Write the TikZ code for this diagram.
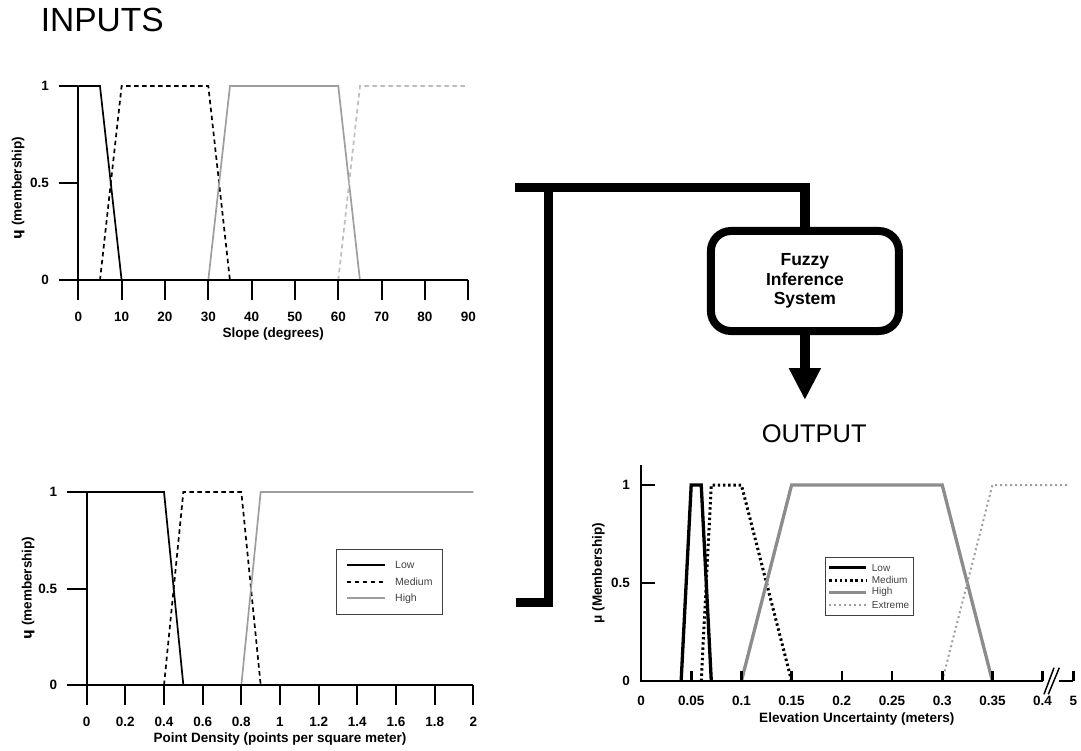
\documentclass[tikz,border=0pt]{standalone}
\usepackage{fontspec}
\setmainfont{Liberation Sans}
\newfontfamily\ipafont{DejaVu Sans}
\usetikzlibrary{arrows.meta}

\definecolor{hiGray}{gray}{0.62}
\definecolor{exGray}{gray}{0.74}
\definecolor{hiGrayB}{gray}{0.55}
\definecolor{exGrayB}{gray}{0.62}
\definecolor{legText}{gray}{0.25}

\newcommand\axfont{\fontsize{13.5}{15}\selectfont\bfseries}
\newcommand\legfont{\fontsize{10.5}{12}\selectfont}

\tikzset{
  axline/.style={line width=2pt},
  axlineB/.style={line width=2.6pt},
  ticklab/.style={font=\axfont, anchor=base, inner sep=0pt},
  ytlab/.style={font=\axfont, anchor=east, inner sep=0pt},
  axtitle/.style={font=\axfont, anchor=base, inner sep=0pt},
  ytitle/.style={font=\axfont, rotate=90, inner sep=0pt},
  lowA/.style={line width=1.7pt, black},
  medA/.style={line width=1.7pt, black, dash pattern=on 4.5pt off 3.5pt},
  highA/.style={line width=1.7pt, hiGray},
  extA/.style={line width=1.7pt, exGray, dash pattern=on 4.5pt off 3.5pt},
  lowB/.style={line width=3.3pt, black},
  medB/.style={line width=3pt, black, dash pattern=on 2.4pt off 2.8pt},
  highB/.style={line width=3.3pt, hiGrayB},
  extB/.style={line width=2pt, exGrayB, dash pattern=on 2pt off 3pt},
  legbox/.style={draw=black!75, line width=1.2pt},
  legtext/.style={font=\legfont, text=legText, anchor=west, inner sep=0pt},
  conn/.style={line width=9.3pt, line join=miter},
  fisbox/.style={draw, line width=8pt, rounded corners=20pt, minimum width=188pt,
    minimum height=100pt, align=center, font=\fontsize{17.5}{19.7}\selectfont\bfseries},
  bigtitle/.style={inner sep=0pt, anchor=base},
}

\begin{document}
\begin{tikzpicture}[x=1pt, y=-1pt]
\useasboundingbox (0,0) rectangle (1081,751);

% ---------- headings ----------
\node[bigtitle, anchor=base west, font=\fontsize{33.5}{40}\selectfont] (inputs) at (40.7,31.7) {INPUTS};
\node[bigtitle, font=\fontsize{25.5}{30}\selectfont] (output) at (814.2,442.3) {OUTPUT};

% ---------- slope membership functions ----------
\begin{scope}[shift={(78.3,280.3)}, x=4.333pt, y=194.3pt]
  \draw[lowA]  (0,1) -- (5,1) -- (10,0);
  \draw[medA]  (5,0) -- (10,1) -- (30,1) -- (35,0);
  \draw[highA] (30,0) -- (35,1) -- (60,1) -- (65,0);
  \draw[extA]  (60,0) -- (65,1) -- (90,1);
  \draw[axline] ([xshift=-19.6pt]0,0) -- (90,0);
  \draw[axline] (0,1) -- ([yshift=-19.7pt]0,0);
  \foreach \v in {10,20,...,90} \draw[axline] (\v,0) -- ++(0pt,-19.7pt);
  \foreach \v in {0.5,1} \draw[axline] ([xshift=-19.6pt]0,\v) -- (0,\v);
  \foreach \v in {0,10,...,90} \node[ticklab] (sx\v) at ([yshift=-41.5pt]\v,0) {\v};
  \node[ytlab] (sy0) at ([xshift=-29.3pt]0,0) {0};
  \node[ytlab] (sy5) at ([xshift=-29.3pt]0,0.5) {0.5};
  \node[ytlab] (sy1) at ([xshift=-29.3pt]0,1) {1};
  \node[axtitle] (sxt) at ([yshift=-57pt]45,0) {Slope (degrees)};
  \node[ytitle] (syt) at ([xshift=-60pt]0,0.475) {{\ipafont\bfseries ɥ} (membership)};
\end{scope}

% ---------- point density membership functions ----------
\begin{scope}[shift={(86.7,685)}, x=193.3pt, y=193pt]
  \draw[lowA]  (0,1) -- (0.4,1) -- (0.5,0);
  \draw[medA]  (0.4,0) -- (0.5,1) -- (0.8,1) -- (0.9,0);
  \draw[highA] (0.8,0) -- (0.9,1) -- (2,1);
  \draw[axline] ([xshift=-20pt]0,0) -- (2,0);
  \draw[axline] (0,1) -- ([yshift=-20pt]0,0);
  \foreach \v in {0.2,0.4,0.6,0.8,1,1.2,1.4,1.6,1.8,2} \draw[axline] (\v,0) -- ++(0pt,-20pt);
  \foreach \v in {0.5,1} \draw[axline] ([xshift=-20pt]0,\v) -- (0,\v);
  \foreach \v/\n in {0/a,0.2/b,0.4/c,0.6/d,0.8/e,1/f,1.2/g,1.4/h,1.6/i,1.8/j,2/k}
    \node[ticklab] (dx\n) at ([yshift=-41pt]\v,0) {\v};
  \node[ytlab] (dy0) at ([xshift=-29.4pt]0,0) {0};
  \node[ytlab] (dy5) at ([xshift=-29.4pt]0,0.5) {0.5};
  \node[ytlab] (dy1) at ([xshift=-29.4pt]0,1) {1};
  \node[axtitle] (dxt) at ([yshift=-57.7pt]1,0) {Point Density (points per square meter)};
  \node[ytitle] (dyt) at ([xshift=-58.4pt]0,0.503) {{\ipafont\bfseries ɥ} (membership)};
\end{scope}

% legend of the input sets
\draw[legbox] (336.7,549.3) rectangle (442.7,614.3);
\draw[lowA]  (346.7,565) -- (385,565);
\draw[medA]  (346.7,581.7) -- (385,581.7);
\draw[highA] (346.7,598.3) -- (385,598.3);
\node[legtext] (lgA1) at (395,565) {Low};
\node[legtext] (lgA2) at (395,581.7) {Medium};
\node[legtext] (lgA3) at (395,598.3) {High};

% ---------- elevation uncertainty membership functions ----------
\begin{scope}[shift={(641,681)}, x=1004pt, y=196pt]
  \draw[lowB]  (0.04,0) -- (0.05,1) -- (0.06,1) -- (0.07,0);
  \draw[medB]  (0.06,0) -- (0.07,1) -- (0.1,1) -- (0.15,0);
  \draw[highB] (0.1,0) -- (0.15,1) -- (0.3,1) -- (0.35,0);
  \draw[extB]  (0.3,0) -- (0.35,1) -- (0.4273,1);
  \draw[axlineB] ([xshift=-1.3pt]0,0) -- (0.4,0);
  \draw[axlineB] (0.4163,0) -- (0.4306,0);
  \draw[axlineB] (0,0) -- (0,1.102);
  \foreach \v in {0.05,0.1,0.15,0.2,0.25,0.3,0.35,0.4,0.4306}
    \draw[axlineB] (\v,0) -- ++(0pt,10pt);
  \foreach \v in {0.5,1} \draw[axlineB] (0,\v) -- ([xshift=14pt]0,\v);
  \foreach \v/\t/\n in {0/0/a,0.05/0.05/b,0.1/0.1/c,0.15/0.15/d,0.2/0.2/e,0.25/0.25/f,
                        0.3/0.3/g,0.35/0.35/h,0.4/0.4/i,0.4306/5/j}
    \node[ticklab] (ex\n) at ([yshift=-24.7pt]\v,0) {\t};
  \node[ytlab] (ey0) at ([xshift=-11pt]0,0) {0};
  \node[ytlab] (ey5) at ([xshift=-11pt]0,0.5) {0.5};
  \node[ytlab] (ey1) at ([xshift=-11pt]0,1) {1};
  \node[axtitle] (ext) at ([yshift=-41.3pt]0.2149,0) {Elevation Uncertainty (meters)};
  \node[ytitle] (eyt) at ([xshift=-42.7pt]0,0.551) {μ (Membership)};
\end{scope}

% axis break marks
\draw[line width=1.5pt] (1044,694.3) -- (1054,667.7);
\draw[line width=1.5pt] (1048.3,694.3) -- (1059.3,667.7);

% legend of the output sets
\draw[legbox] (825.7,557.7) rectangle (913.3,615.7);
\draw[lowB]  (829.3,567.7) -- (866,567.7);
\draw[medB]  (829.3,580) -- (866,580);
\draw[highB] (829.3,592.3) -- (866,592.3);
\draw[extB]  (829.3,605) -- (866,605);
\node[legtext, font=\fontsize{10}{12}\selectfont] (lgB1) at (871.7,567.7) {Low};
\node[legtext, font=\fontsize{10}{12}\selectfont] (lgB2) at (871.7,580) {Medium};
\node[legtext, font=\fontsize{10}{12}\selectfont] (lgB3) at (871.7,592.3) {High};
\node[legtext, font=\fontsize{10}{12}\selectfont] (lgB4) at (871.7,605) {Extreme};

% ---------- inference block and connectors ----------
\node[fisbox] (fis) at (804.9,281) {Fuzzy\\Inference\\System};

\coordinate (topL) at (515,187.3);
\coordinate (junc) at (548.3,187.3);
\coordinate (topR) at (804.9,187.3);
\coordinate (botC) at (548.3,602.3);
\coordinate (botL) at (515.7,602.3);
\coordinate (tip)  at (804.9,400);

\draw[conn] (topL) -- (topR) -- (fis.north);
\draw[conn] (junc) -- (botC) -- (botL);
\draw[line width=10pt, -{Triangle[width=30pt,length=32pt]}] (fis.south) -- (tip);

\end{tikzpicture}
\end{document}
